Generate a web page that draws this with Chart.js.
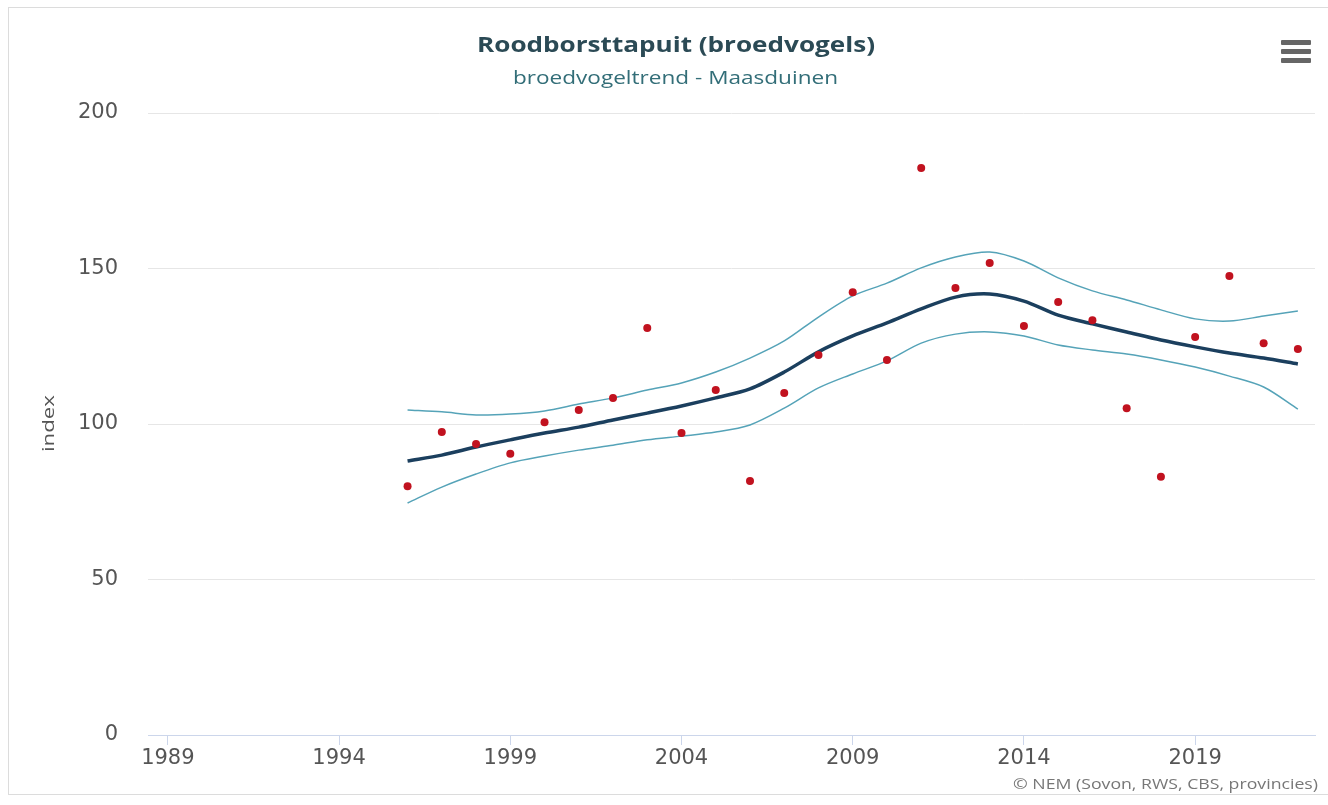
<!DOCTYPE html>
<html><head><meta charset="utf-8">
<script src="https://cdn.jsdelivr.net/npm/chart.js@4.4.1/dist/chart.umd.min.js"></script>
<style>
html,body{margin:0;padding:0;background:#fff;overflow:hidden;}
#frame{position:absolute;left:8px;top:7px;width:1340px;height:788px;border:1px solid #dcdcdc;box-sizing:border-box;}
#wrap{position:absolute;left:0;top:0;width:1328px;height:805px;}
.bar{position:absolute;left:1281px;width:30px;height:5px;background:#666;border-radius:1px;}
</style></head>
<body>
<div id="frame"></div>
<div id="wrap"><canvas id="c" width="1328" height="805"></canvas></div>
<div class="bar" style="top:40px"></div>
<div class="bar" style="top:49px"></div>
<div class="bar" style="top:58px"></div>
<script>
const years = [1996,1997,1998,1999,2000,2001,2002,2003,2004,2005,2006,2007,2008,2009,2010,2011,2012,2013,2014,2015,2016,2017,2018,2019,2020,2021,2022];
const counts = [80,97.4,93.6,90.4,100.6,104.5,108.4,130.9,97.1,110.9,81.7,110,122.2,142.4,120.6,182.3,143.7,151.8,131.5,139.2,133.4,105.1,83,128,147.6,126,124.1];
const trend = [88.1,90,92.6,94.9,97.1,99,101.3,103.5,105.8,108.4,111.3,116.7,123.2,128.3,132.5,137,140.8,141.8,139.5,135,132.2,129.6,127,124.8,122.8,121.2,119.3];
const upper = [104.5,103.9,102.9,103.2,104.2,106.4,108.4,110.9,113.2,116.7,121.2,126.7,134.4,141.2,145.3,150.2,153.7,155.3,152.4,147,142.8,139.9,136.7,133.8,133.1,134.7,136.3];
const lower = [74.6,79.7,83.9,87.5,89.7,91.6,93.2,94.9,96.1,97.4,99.7,105.1,111.6,116.1,120.3,126,128.9,129.6,128.3,125.4,123.8,122.5,120.6,118.3,115.4,111.9,104.8];
const xTickYears = [1989,1994,1999,2004,2009,2014,2019];
const yTicks = [0,50,100,150,200];

const titleText = 'Roodborsttapuit (broedvogels)';
const subtitleText = 'broedvogeltrend - Maasduinen';
const yAxisTitle = 'index';
const creditText = '\u00A9 NEM (Sovon, RWS, CBS, provincies)';

const pts = arr => years.map((y,i)=>({x:y,y:arr[i]}));
const FONT = '"Open Sans", sans-serif';
const TICKFONT = '"DejaVu Sans", sans-serif';

function fitText(ctx, text, left, width, y, font, color){
  ctx.save();
  ctx.font = font;
  ctx.fillStyle = color;
  ctx.textAlign = 'left';
  ctx.textBaseline = 'alphabetic';
  const w = ctx.measureText(text).width;
  ctx.translate(left, y);
  ctx.scale(width / w, 1);
  ctx.fillText(text, 0, 0);
  ctx.restore();
}

const textPlugin = {
  id:'texts',
  afterDraw(chart){
    const ctx = chart.ctx;
    fitText(ctx, titleText, 477, 398, 52, 'bold 21px '+FONT, '#2b4a55');
    fitText(ctx, subtitleText, 513, 325, 84, '18px '+FONT, '#336e78');
    fitText(ctx, creditText, 1013, 305, 789, '15px '+FONT, '#777');
    ctx.save();
    ctx.translate(54,452);
    ctx.rotate(-Math.PI/2);
    fitText(ctx, yAxisTitle, 0, 57, 0, '17px '+FONT, '#555');
    ctx.restore();
  }
};

new Chart(document.getElementById('c'),{
  type:'line',
  data:{datasets:[
    {label:'tellingen',data:pts(counts),showLine:false,pointRadius:4,pointBackgroundColor:'#c1121f',pointBorderColor:'#c1121f',pointBorderWidth:0,order:0},
    {label:'trend',data:pts(trend),borderColor:'#1b3f5e',borderWidth:3.5,pointRadius:0,tension:0.3,order:1},
    {label:'boven',data:pts(upper),borderColor:'#55a3b8',borderWidth:1.5,pointRadius:0,tension:0.3,order:2},
    {label:'onder',data:pts(lower),borderColor:'#55a3b8',borderWidth:1.5,pointRadius:0,tension:0.3,order:2}
  ]},
  options:{
    responsive:false,animation:false,
    layout:{padding:{left:0,right:13,top:113,bottom:0}},
    plugins:{legend:{display:false},tooltip:{enabled:false},title:{display:false}},
    scales:{
      x:{type:'linear',min:1988.42,max:2022.5,
        afterBuildTicks:a=>{a.ticks=xTickYears.map(v=>({value:v}));},
        afterFit:a=>{a.height=70;},
        grid:{drawOnChartArea:false,drawTicks:true,tickLength:10,tickColor:'#ccd6eb',tickWidth:1},
        border:{display:true,color:'#ccd6eb',width:1},
        ticks:{padding:1,color:'#555',font:{family:TICKFONT,size:21},maxRotation:0,autoSkip:false,callback:v=>String(v)}
      },
      y:{min:0,max:200,
        afterBuildTicks:a=>{a.ticks=yTicks.map(v=>({value:v}));},
        afterFit:a=>{a.width=148;},
        grid:{color:'#e6e6e6',drawTicks:false,lineWidth:1},
        border:{display:false},
        ticks:{padding:30,color:'#555',font:{family:TICKFONT,size:21}}
      }
    }
  },
  plugins:[textPlugin]
});
</script>
</body></html>
